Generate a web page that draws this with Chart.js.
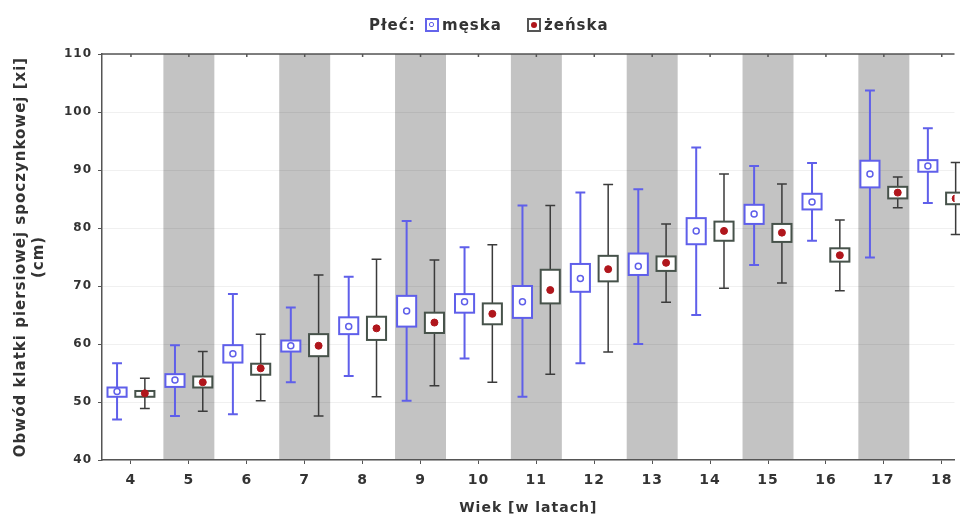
<!DOCTYPE html>
<html lang="pl">
<head>
    <meta charset="UTF-8">
    <title>Obwód klatki piersiowej wg wieku i płci</title>
    <script src="https://cdn.jsdelivr.net/npm/chart.js"></script>
    <style>
        body {
            margin: 0;
            background: #fff;
            font-family: "DejaVu Sans", sans-serif;
        }
        .wrap {
            position: relative;
            width: 960px;
            height: 521px;
            overflow: hidden;
        }
        .legend > * {
            position: absolute;
            top: 15px;
            font-weight: bold;
            font-size: 15px;
            letter-spacing: 1px;
            line-height: 20px;
            color: #333;
            white-space: nowrap;
        }
        .legend .ico {
            top: 18px;
            box-sizing: border-box;
            width: 14px;
            height: 14px;
            border: 2px solid #6464eb;
            background: #fff;
        }
        .ico.m::after {
            content: '';
            position: absolute;
            left: 2px; top: 2px;
            width: 3px; height: 3px;
            border: 1.5px solid #6464eb;
            border-radius: 2px;
        }
        .legend .ico.f { border-color: #555; }
        .ico.f::after {
            content: '';
            position: absolute;
            left: 2px; top: 2px;
            width: 6px; height: 6px;
            background: #b0161c;
            border-radius: 50%;
        }
        canvas { display: block; }
    </style>
</head>
<body>
<div class="wrap">
    <div class="legend">
        <span style="left:369px">Płeć:</span>
        <span class="ico m" style="left:425px"></span><span style="left:442px">męska</span>
        <span class="ico f" style="left:527px"></span><span style="left:544px">żeńska</span>
    </div>
    <canvas id="chart" width="960" height="521"></canvas>
</div>

<script>
    // Wiek (lata) i statystyki dla obu płci
    const ages = [4, 5, 6, 7, 8, 9, 10, 11, 12, 13, 14, 15, 16, 17, 18];
    const bandAges = [5, 7, 9, 11, 13, 15, 17];
    const yTicks = [40, 50, 60, 70, 80, 90, 100, 110];

    // męska
    const maleMin = [47.0, 47.6, 47.9, 53.4, 54.5, 50.2, 57.5, 50.9, 56.7, 60.0, 65.0, 73.6, 77.8, 74.9, 84.3];
    const maleQ1  = [50.9, 52.6, 56.8, 58.7, 61.7, 63.0, 65.4, 64.5, 69.0, 71.9, 77.2, 80.7, 83.2, 87.0, 89.7];
    const maleMid = [51.8, 53.8, 58.3, 59.7, 63.0, 65.7, 67.3, 67.3, 71.3, 73.4, 79.5, 82.4, 84.5, 89.3, 90.7];
    const maleQ3  = [52.5, 54.8, 59.8, 60.6, 64.6, 68.3, 68.6, 70.0, 73.8, 75.6, 81.7, 84.0, 85.9, 91.6, 91.7];
    const maleMax = [56.7, 59.8, 68.6, 66.3, 71.6, 81.2, 76.7, 83.9, 86.1, 86.7, 93.9, 90.7, 91.2, 103.7, 97.2];

    // żeńska
    const femMin = [48.9, 48.4, 50.2, 47.6, 50.9, 52.8, 53.4, 54.8, 58.6, 67.2, 69.6, 70.5, 69.2, 83.5, 78.9];
    const femQ1  = [50.9, 52.5, 54.7, 57.9, 60.7, 61.9, 63.4, 67.0, 70.8, 72.6, 77.8, 77.6, 74.2, 85.1, 84.1];
    const femMid = [51.5, 53.4, 55.8, 59.7, 62.7, 63.7, 65.2, 69.3, 72.9, 74.0, 79.5, 79.2, 75.3, 86.1, 85.1];
    const femQ3  = [51.9, 54.4, 56.6, 61.7, 64.7, 65.4, 67.0, 72.8, 75.2, 75.1, 81.1, 80.7, 76.5, 87.1, 86.1];
    const femMax = [54.1, 58.7, 61.7, 71.9, 74.6, 74.5, 77.1, 83.9, 87.5, 80.7, 89.3, 87.6, 81.4, 88.8, 91.3];

    const OFFSET = 0.24;      // przesunięcie grup od środka kategorii
    const BOX_W = 0.33;
    const CAP_W = 0.17;
    const BAND_HALF = 0.44;

    const BLUE = '#5f5fea';
    const DARK = '#3b3b3b';

    function drawGroup(ctx, x, y, off, mins, q1, q3, maxs, col, boxCol, lw) {
        ages.forEach((age, i) => {
            const cx = x.getPixelForValue(age + off);
            const hw = (x.getPixelForValue(age + off + BOX_W / 2) - cx);
            const cw = (x.getPixelForValue(age + off + CAP_W / 2) - cx);
            const yMin = y.getPixelForValue(mins[i]);
            const yMax = y.getPixelForValue(maxs[i]);
            const yLo = y.getPixelForValue(q1[i]);
            const yHi = y.getPixelForValue(q3[i]);

            ctx.strokeStyle = col;
            ctx.lineWidth = lw;
            ctx.beginPath();
            ctx.moveTo(cx, yMin); ctx.lineTo(cx, yMax);
            ctx.moveTo(cx - cw, yMin); ctx.lineTo(cx + cw, yMin);
            ctx.moveTo(cx - cw, yMax); ctx.lineTo(cx + cw, yMax);
            ctx.stroke();

            ctx.fillStyle = '#fff';
            ctx.fillRect(cx - hw, yHi, hw * 2, yLo - yHi);
            ctx.strokeStyle = boxCol;
            ctx.lineWidth = 2;
            ctx.strokeRect(cx - hw, yHi, hw * 2, yLo - yHi);
        });
    }

    // szerszy tekst, jak w oryginale
    function spacing(chart) { chart.ctx.letterSpacing = '1px'; }

    const boxPlugin = {
        id: 'boxes',
        beforeUpdate: spacing,
        beforeDraw(chart) {
            spacing(chart);
            const { ctx, chartArea: a, scales: { x } } = chart;
            ctx.save();
            ctx.fillStyle = '#c3c3c3';
            bandAges.forEach(age => {
                const l = x.getPixelForValue(age - BAND_HALF);
                const r = x.getPixelForValue(age + BAND_HALF);
                ctx.fillRect(l, a.top, r - l, a.bottom - a.top);
            });
            ctx.restore();
        },
        beforeDatasetsDraw(chart) {
            const { ctx, chartArea: a, scales: { x, y } } = chart;
            ctx.save();
            // górna krawędź z kreskami
            ctx.strokeStyle = '#555';
            ctx.lineWidth = 1.5;
            ctx.beginPath();
            ctx.moveTo(a.left, a.top); ctx.lineTo(a.right, a.top);
            ages.forEach(age => {
                const px = x.getPixelForValue(age);
                ctx.moveTo(px, a.top); ctx.lineTo(px, a.top + 3);
            });
            ctx.stroke();

            drawGroup(ctx, x, y, -OFFSET, maleMin, maleQ1, maleQ3, maleMax, BLUE, BLUE, 2);
            drawGroup(ctx, x, y, OFFSET, femMin, femQ1, femQ3, femMax, DARK, '#46524a', 1.5);
            ctx.restore();
        }
    };

    const ctx = document.getElementById('chart').getContext('2d');
    const myChart = new Chart(ctx, {
        type: 'scatter',
        data: {
            datasets: [
                {
                    label: 'męska',
                    data: ages.map((a, i) => ({ x: a - OFFSET, y: maleMid[i] })),
                    pointRadius: 3,
                    pointStyle: 'circle',
                    backgroundColor: '#fff',
                    borderColor: BLUE,
                    borderWidth: 1.5
                },
                {
                    label: 'żeńska',
                    data: ages.map((a, i) => ({ x: a + OFFSET, y: femMid[i] })),
                    pointRadius: 3.5,
                    pointStyle: 'circle',
                    backgroundColor: '#b0161c',
                    borderColor: '#b0161c',
                    borderWidth: 1
                }
            ]
        },
        options: {
            responsive: false,
            animation: false,
            layout: { padding: { top: 54, right: 0, left: 8, bottom: 0 } },
            plugins: {
                legend: { display: false },
                tooltip: { enabled: false }
            },
            scales: {
                x: {
                    type: 'linear',
                    min: 3.5,
                    max: 18.22,
                    afterBuildTicks: s => { s.ticks = ages.map(v => ({ value: v })); },
                    afterFit: s => { s.height = 61; s.paddingRight = 0; s.paddingLeft = 0; },
                    border: { color: '#555', width: 1.5 },
                    grid: { drawOnChartArea: false, tickLength: 4, tickColor: '#555' },
                    ticks: {
                        color: '#333',
                        padding: 8,
                        font: { family: 'DejaVu Sans', weight: 'bold', size: 14 }
                    },
                    title: {
                        display: true,
                        text: 'Wiek [w latach]',
                        color: '#333',
                        padding: { top: 2 },
                        font: { family: 'DejaVu Sans', weight: 'bold', size: 14 }
                    }
                },
                y: {
                    min: 40,
                    max: 110,
                    afterBuildTicks: s => { s.ticks = yTicks.map(v => ({ value: v })); },
                    afterFit: s => { s.width = 94; s.paddingTop = 0; s.paddingBottom = 0; },
                    border: { color: '#555', width: 1.5 },
                    grid: { color: 'rgba(0,0,0,0.06)', tickLength: 4, tickColor: '#555' },
                    ticks: {
                        color: '#333',
                        padding: 6,
                        font: { family: 'DejaVu Sans', weight: 'bold', size: 12 }
                    },
                    title: {
                        display: true,
                        text: ['Obwód klatki piersiowej spoczynkowej [xi]', '(cm)'],
                        color: '#333',
                        padding: { bottom: 4 },
                        font: { family: 'DejaVu Sans', weight: 'bold', size: 15 }
                    }
                }
            }
        },
        plugins: [boxPlugin]
    });
</script>
</body>
</html>
